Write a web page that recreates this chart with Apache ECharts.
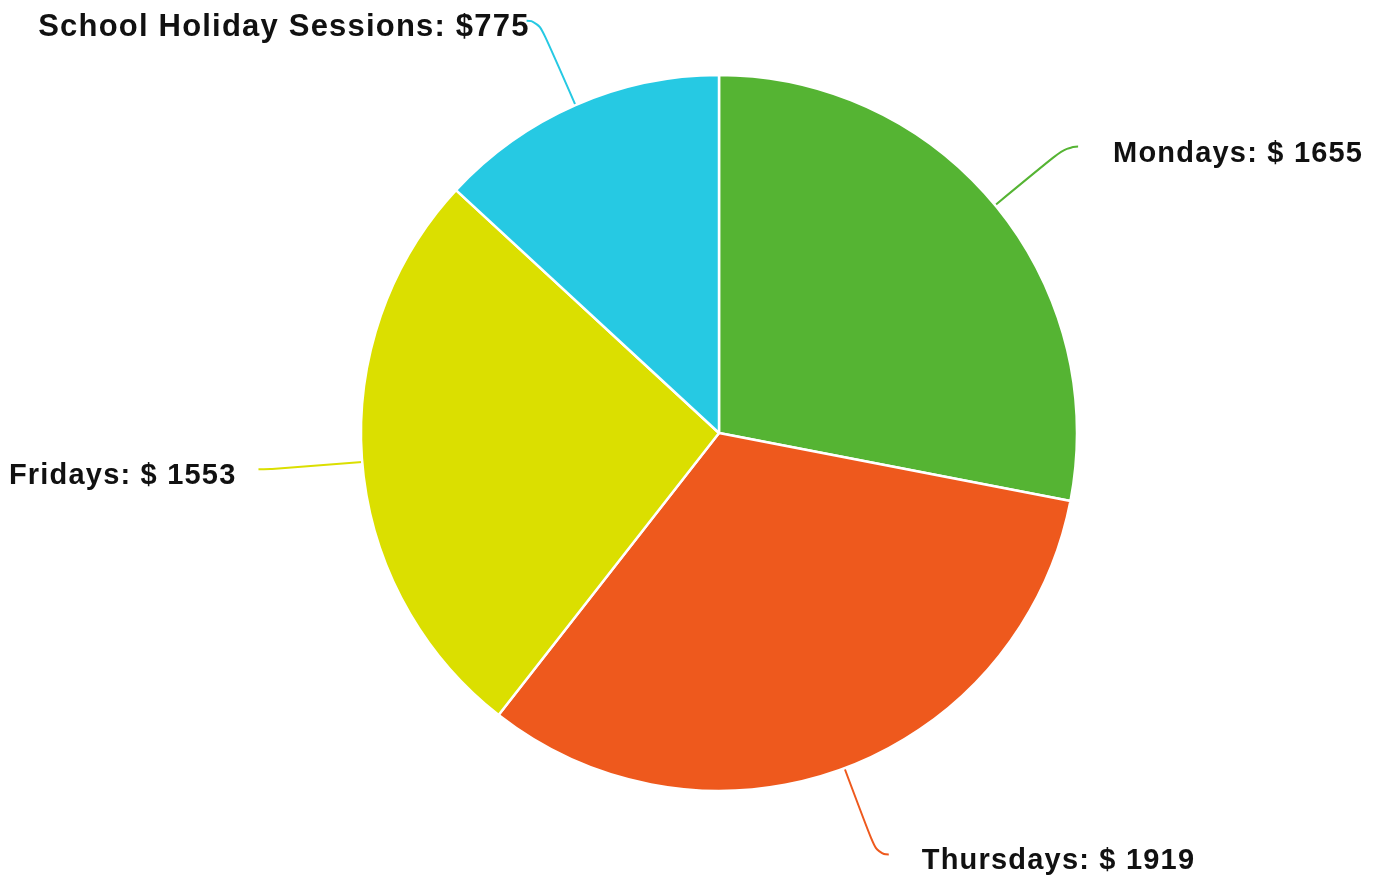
<!DOCTYPE html>
<html>
<head>
<meta charset="utf-8">
<style>
  html, body { margin: 0; padding: 0; background: #ffffff; }
  #chart { width: 1386px; height: 881px; }
</style>
<script src="https://cdn.jsdelivr.net/npm/echarts@6/dist/echarts.min.js"></script>
</head>
<body>
<div id="chart"></div>
<script>
const categories = ['Mondays', 'Thursdays', 'Fridays', 'School Holiday Sessions'];
const values = [1655, 1919, 1553, 775];
const colors = ['#55b433', '#ee591d', '#dbdf00', '#26c9e3'];
const labelGaps = [35, 33, 22, -3];
const labelFormats = ['{b}: $ {c}', '{b}: $ {c}', '{b}: $ {c}', '{b}: ${c}'];
const labelSizes = [29, 29, 29, 31];

const SPACING = 1.2;

const measureCanvas = document.createElement('canvas');
const measureCtx = measureCanvas.getContext('2d');
const spacingSupported = ('letterSpacing' in measureCtx);
echarts.setPlatformAPI({
  measureText: function (text, font) {
    measureCtx.font = font || '12px sans-serif';
    const w = measureCtx.measureText(text).width;
    return { width: w + (spacingSupported ? String(text).length * SPACING : 0) };
  }
});

const chart = echarts.init(document.getElementById('chart'), null, { renderer: 'canvas', devicePixelRatio: 1 });

const data = categories.map((name, i) => ({
  name: name,
  value: values[i],
  itemStyle: { color: colors[i] },
  label: { distanceToLabelLine: labelGaps[i], formatter: labelFormats[i], fontSize: labelSizes[i] },
  labelLine: { lineStyle: { color: colors[i] } }
}));

chart.setOption({
  animation: false,
  backgroundColor: '#ffffff',
  series: [{
    type: 'pie',
    center: [719, 433],
    radius: 358,
    startAngle: 90,
    clockwise: true,
    avoidLabelOverlap: false,
    itemStyle: { borderColor: '#ffffff', borderWidth: 2.5 },
    label: {
      show: true,
      position: 'outside',
      color: '#111111',
      fontFamily: 'Liberation Sans, Arial, sans-serif',
      fontWeight: 'bold',
      fontSize: 29
    },
    labelLayout: { dy: 7 },
    labelLine: {
      show: true,
      length: 92,
      length2: 12,
      smooth: 0.6,
      lineStyle: { width: 2 }
    },
    emphasis: { disabled: true },
    data: data
  }]
});

const zr = chart.getZr();
zr.flush();
if (spacingSupported) {
  document.querySelectorAll('#chart canvas').forEach(function (c) {
    c.getContext('2d').letterSpacing = SPACING + 'px';
  });
  zr.painter.refresh(true);
}
</script>
</body>
</html>
